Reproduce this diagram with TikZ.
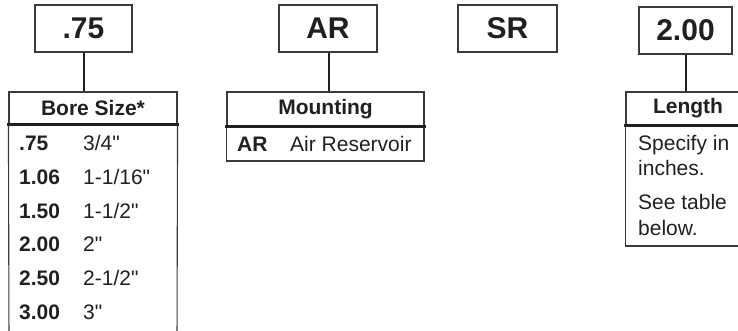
\documentclass[tikz,border=0pt]{standalone}
\usepackage{fontspec}
\setmainfont{Liberation Sans}[Ligatures=TeXOff]
\definecolor{ink}{HTML}{231F20}
\definecolor{frame}{HTML}{3A3A3A}
\begin{document}
\begin{tikzpicture}[x=1pt,y=-1pt,
  codebox/.style={draw=frame,line width=1.1pt,minimum height=47pt,inner sep=0pt,
    font=\fontsize{30}{30}\selectfont\bfseries,text=ink},
  headbox/.style={draw=frame,line width=1.1pt,inner sep=0pt,
    font=\fontsize{21}{21}\selectfont\bfseries,text=ink},
  body/.style={draw=frame,line width=1.1pt},
  divider/.style={draw=ink,line width=2.6pt},
  link/.style={draw=ink,line width=2pt},
  cell/.style={anchor=base west,inner sep=0pt,font=\fontsize{21}{21}\selectfont,text=ink},
  cellb/.style={cell,font=\fontsize{21}{21}\selectfont\bfseries}]
\useasboundingbox (0,0) rectangle (738,330);
\clip (0,0) rectangle (738,330);
% code boxes
\node[codebox,minimum width=97pt] (b1) at (83.5,28.5) {.75};
\node[codebox,minimum width=98pt] (b2) at (328,28.5) {AR};
\node[codebox,minimum width=99pt] (b3) at (507.5,28.5) {SR};
\node[codebox,minimum width=93pt] (b4) at (685.5,30.5) {2.00};
% headers
\node[headbox,minimum width=168pt,minimum height=32pt] (h1) at (93,108) {Bore Size*};
\node[headbox,minimum width=197pt,minimum height=34pt] (h2) at (325.5,109) {Mounting};
\node[headbox,minimum width=124pt,minimum height=33pt] (h3) at (688,108.5) {Length};
% bodies
\draw[body] (h1.south west) -- (9,345) (h1.south east) -- (177,345);
\draw[body] (h2.south west) rectangle (424,161);
\draw[body] (h3.south west) rectangle (750,246);
\draw[divider] ([xshift=-1pt]h1.south west) -- ([xshift=1pt]h1.south east);
\draw[divider] ([xshift=-1pt]h2.south west) -- ([xshift=1pt]h2.south east);
\draw[divider] ([xshift=-1pt]h3.south west) -- ([xshift=1pt]h3.south east);
% connectors
\draw[link] (b1.south) -- (b1.south |- h1.north);
\draw[link] ([xshift=1pt]b2.south) -- ([xshift=1pt]b2.south |- h2.north);
\draw[link] (b4.south) -- (b4.south |- h3.north);
% bore rows
\foreach \c/\s [count=\i from 0] in {.75/3\slash 4",1.06/1-1\slash 16",1.50/1-1\slash 2",2.00/2",2.50/2-1\slash 2",3.00/3"}{
  \node[cellb] (bc\i) at (19,150.5+33.8*\i) {\c};
  \node[cell] (bs\i) at (83,150.5+33.8*\i) {\s};
}
% mounting row
\node[cellb] (mc) at (237,151.5) {AR};
\node[cell] (ms) at (290,151.5) {Air Reservoir};
% length text
\node[cell] (l1) at (638,150.5) {Specify in};
\node[cell] (l2) at (638,175.5) {inches.};
\node[cell] (l3) at (638,209.5) {See table};
\node[cell] (l4) at (638,235) {below.};
\end{tikzpicture}
\end{document}
